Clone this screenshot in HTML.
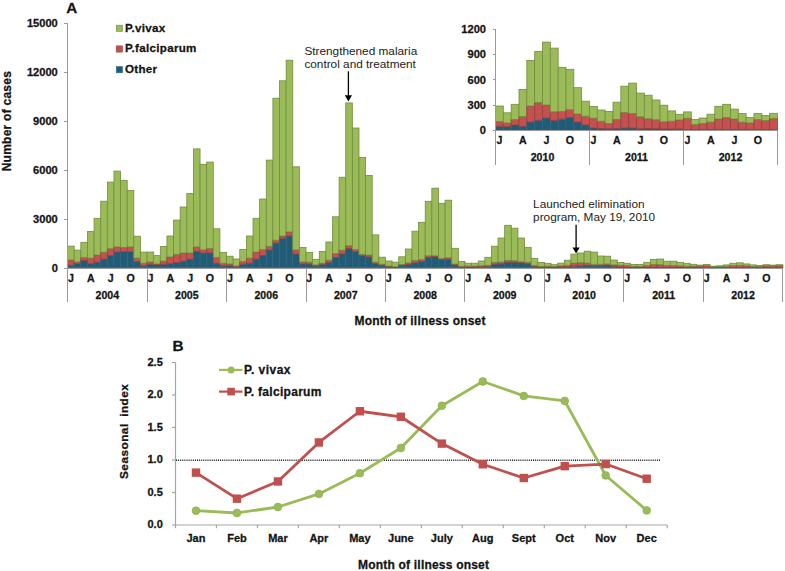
<!DOCTYPE html>
<html><head><meta charset="utf-8"><title>Malaria cases</title>
<style>html,body{margin:0;padding:0;background:#fff;} body{width:785px;height:571px;overflow:hidden;font-family:"Liberation Sans",sans-serif;} svg{display:block;}</style>
</head><body>
<svg width="785" height="571" viewBox="0 0 785 571" font-family="'Liberation Sans', sans-serif" fill="#141414">
<style>text{stroke:#141414;stroke-width:0.28px;stroke-linejoin:round} text[font-weight="normal"]{stroke:none;fill:#1c1c1c}</style>
<rect width="785" height="571" fill="#fff"/>
<rect x="67.60" y="265.20" width="6.62" height="2.60" fill="#215B75" stroke="#2E6686" stroke-width="0.8"/>
<rect x="67.60" y="259.90" width="6.62" height="5.30" fill="#C4504F" stroke="#94403C" stroke-width="0.8"/>
<rect x="67.60" y="246.10" width="6.62" height="13.80" fill="#9BBB59" stroke="#728D3E" stroke-width="0.8"/>
<rect x="74.22" y="263.70" width="6.62" height="4.10" fill="#215B75" stroke="#2E6686" stroke-width="0.8"/>
<rect x="74.22" y="261.90" width="6.62" height="1.80" fill="#C4504F" stroke="#94403C" stroke-width="0.8"/>
<rect x="74.22" y="250.10" width="6.62" height="11.80" fill="#9BBB59" stroke="#728D3E" stroke-width="0.8"/>
<rect x="80.84" y="260.40" width="6.62" height="7.40" fill="#215B75" stroke="#2E6686" stroke-width="0.8"/>
<rect x="80.84" y="257.60" width="6.62" height="2.80" fill="#C4504F" stroke="#94403C" stroke-width="0.8"/>
<rect x="80.84" y="242.30" width="6.62" height="15.30" fill="#9BBB59" stroke="#728D3E" stroke-width="0.8"/>
<rect x="87.47" y="263.70" width="6.62" height="4.10" fill="#215B75" stroke="#2E6686" stroke-width="0.8"/>
<rect x="87.47" y="258.10" width="6.62" height="5.60" fill="#C4504F" stroke="#94403C" stroke-width="0.8"/>
<rect x="87.47" y="231.60" width="6.62" height="26.50" fill="#9BBB59" stroke="#728D3E" stroke-width="0.8"/>
<rect x="94.09" y="262.10" width="6.62" height="5.70" fill="#215B75" stroke="#2E6686" stroke-width="0.8"/>
<rect x="94.09" y="255.00" width="6.62" height="7.10" fill="#C4504F" stroke="#94403C" stroke-width="0.8"/>
<rect x="94.09" y="218.30" width="6.62" height="36.70" fill="#9BBB59" stroke="#728D3E" stroke-width="0.8"/>
<rect x="100.71" y="259.10" width="6.62" height="8.70" fill="#215B75" stroke="#2E6686" stroke-width="0.8"/>
<rect x="100.71" y="252.20" width="6.62" height="6.90" fill="#C4504F" stroke="#94403C" stroke-width="0.8"/>
<rect x="100.71" y="201.20" width="6.62" height="51.00" fill="#9BBB59" stroke="#728D3E" stroke-width="0.8"/>
<rect x="107.33" y="255.50" width="6.62" height="12.30" fill="#215B75" stroke="#2E6686" stroke-width="0.8"/>
<rect x="107.33" y="248.70" width="6.62" height="6.80" fill="#C4504F" stroke="#94403C" stroke-width="0.8"/>
<rect x="107.33" y="182.10" width="6.62" height="66.60" fill="#9BBB59" stroke="#728D3E" stroke-width="0.8"/>
<rect x="113.96" y="252.00" width="6.62" height="15.80" fill="#215B75" stroke="#2E6686" stroke-width="0.8"/>
<rect x="113.96" y="246.90" width="6.62" height="5.10" fill="#C4504F" stroke="#94403C" stroke-width="0.8"/>
<rect x="113.96" y="171.10" width="6.62" height="75.80" fill="#9BBB59" stroke="#728D3E" stroke-width="0.8"/>
<rect x="120.58" y="251.70" width="6.62" height="16.10" fill="#215B75" stroke="#2E6686" stroke-width="0.8"/>
<rect x="120.58" y="247.40" width="6.62" height="4.30" fill="#C4504F" stroke="#94403C" stroke-width="0.8"/>
<rect x="120.58" y="180.30" width="6.62" height="67.10" fill="#9BBB59" stroke="#728D3E" stroke-width="0.8"/>
<rect x="127.20" y="251.70" width="6.62" height="16.10" fill="#215B75" stroke="#2E6686" stroke-width="0.8"/>
<rect x="127.20" y="246.90" width="6.62" height="4.80" fill="#C4504F" stroke="#94403C" stroke-width="0.8"/>
<rect x="127.20" y="190.40" width="6.62" height="56.50" fill="#9BBB59" stroke="#728D3E" stroke-width="0.8"/>
<rect x="133.82" y="261.60" width="6.62" height="6.20" fill="#215B75" stroke="#2E6686" stroke-width="0.8"/>
<rect x="133.82" y="258.10" width="6.62" height="3.50" fill="#C4504F" stroke="#94403C" stroke-width="0.8"/>
<rect x="133.82" y="236.20" width="6.62" height="21.90" fill="#9BBB59" stroke="#728D3E" stroke-width="0.8"/>
<rect x="140.45" y="265.90" width="6.62" height="1.90" fill="#215B75" stroke="#2E6686" stroke-width="0.8"/>
<rect x="140.45" y="263.20" width="6.62" height="2.70" fill="#C4504F" stroke="#94403C" stroke-width="0.8"/>
<rect x="140.45" y="252.10" width="6.62" height="11.10" fill="#9BBB59" stroke="#728D3E" stroke-width="0.8"/>
<rect x="147.07" y="264.20" width="6.62" height="3.60" fill="#215B75" stroke="#2E6686" stroke-width="0.8"/>
<rect x="147.07" y="261.90" width="6.62" height="2.30" fill="#C4504F" stroke="#94403C" stroke-width="0.8"/>
<rect x="147.07" y="252.00" width="6.62" height="9.90" fill="#9BBB59" stroke="#728D3E" stroke-width="0.8"/>
<rect x="153.69" y="264.70" width="6.62" height="3.10" fill="#215B75" stroke="#2E6686" stroke-width="0.8"/>
<rect x="153.69" y="263.90" width="6.62" height="0.80" fill="#C4504F" stroke="#94403C" stroke-width="0.8"/>
<rect x="153.69" y="255.60" width="6.62" height="8.30" fill="#9BBB59" stroke="#728D3E" stroke-width="0.8"/>
<rect x="160.31" y="264.20" width="6.62" height="3.60" fill="#215B75" stroke="#2E6686" stroke-width="0.8"/>
<rect x="160.31" y="261.10" width="6.62" height="3.10" fill="#C4504F" stroke="#94403C" stroke-width="0.8"/>
<rect x="160.31" y="246.40" width="6.62" height="14.70" fill="#9BBB59" stroke="#728D3E" stroke-width="0.8"/>
<rect x="166.94" y="263.70" width="6.62" height="4.10" fill="#215B75" stroke="#2E6686" stroke-width="0.8"/>
<rect x="166.94" y="257.00" width="6.62" height="6.70" fill="#C4504F" stroke="#94403C" stroke-width="0.8"/>
<rect x="166.94" y="236.00" width="6.62" height="21.00" fill="#9BBB59" stroke="#728D3E" stroke-width="0.8"/>
<rect x="173.56" y="262.60" width="6.62" height="5.20" fill="#215B75" stroke="#2E6686" stroke-width="0.8"/>
<rect x="173.56" y="254.30" width="6.62" height="8.30" fill="#C4504F" stroke="#94403C" stroke-width="0.8"/>
<rect x="173.56" y="220.10" width="6.62" height="34.20" fill="#9BBB59" stroke="#728D3E" stroke-width="0.8"/>
<rect x="180.18" y="261.10" width="6.62" height="6.70" fill="#215B75" stroke="#2E6686" stroke-width="0.8"/>
<rect x="180.18" y="253.00" width="6.62" height="8.10" fill="#C4504F" stroke="#94403C" stroke-width="0.8"/>
<rect x="180.18" y="207.00" width="6.62" height="46.00" fill="#9BBB59" stroke="#728D3E" stroke-width="0.8"/>
<rect x="186.81" y="259.10" width="6.62" height="8.70" fill="#215B75" stroke="#2E6686" stroke-width="0.8"/>
<rect x="186.81" y="253.00" width="6.62" height="6.10" fill="#C4504F" stroke="#94403C" stroke-width="0.8"/>
<rect x="186.81" y="193.60" width="6.62" height="59.40" fill="#9BBB59" stroke="#728D3E" stroke-width="0.8"/>
<rect x="193.43" y="251.40" width="6.62" height="16.40" fill="#215B75" stroke="#2E6686" stroke-width="0.8"/>
<rect x="193.43" y="246.90" width="6.62" height="4.50" fill="#C4504F" stroke="#94403C" stroke-width="0.8"/>
<rect x="193.43" y="148.90" width="6.62" height="98.00" fill="#9BBB59" stroke="#728D3E" stroke-width="0.8"/>
<rect x="200.05" y="253.00" width="6.62" height="14.80" fill="#215B75" stroke="#2E6686" stroke-width="0.8"/>
<rect x="200.05" y="249.90" width="6.62" height="3.10" fill="#C4504F" stroke="#94403C" stroke-width="0.8"/>
<rect x="200.05" y="164.30" width="6.62" height="85.60" fill="#9BBB59" stroke="#728D3E" stroke-width="0.8"/>
<rect x="206.67" y="252.80" width="6.62" height="15.00" fill="#215B75" stroke="#2E6686" stroke-width="0.8"/>
<rect x="206.67" y="248.40" width="6.62" height="4.40" fill="#C4504F" stroke="#94403C" stroke-width="0.8"/>
<rect x="206.67" y="162.10" width="6.62" height="86.30" fill="#9BBB59" stroke="#728D3E" stroke-width="0.8"/>
<rect x="213.30" y="263.20" width="6.62" height="4.60" fill="#215B75" stroke="#2E6686" stroke-width="0.8"/>
<rect x="213.30" y="257.40" width="6.62" height="5.80" fill="#C4504F" stroke="#94403C" stroke-width="0.8"/>
<rect x="213.30" y="228.80" width="6.62" height="28.60" fill="#9BBB59" stroke="#728D3E" stroke-width="0.8"/>
<rect x="219.92" y="265.90" width="6.62" height="1.90" fill="#215B75" stroke="#2E6686" stroke-width="0.8"/>
<rect x="219.92" y="263.20" width="6.62" height="2.70" fill="#C4504F" stroke="#94403C" stroke-width="0.8"/>
<rect x="219.92" y="252.30" width="6.62" height="10.90" fill="#9BBB59" stroke="#728D3E" stroke-width="0.8"/>
<rect x="226.54" y="265.70" width="6.62" height="2.10" fill="#215B75" stroke="#2E6686" stroke-width="0.8"/>
<rect x="226.54" y="263.90" width="6.62" height="1.80" fill="#C4504F" stroke="#94403C" stroke-width="0.8"/>
<rect x="226.54" y="256.20" width="6.62" height="7.70" fill="#9BBB59" stroke="#728D3E" stroke-width="0.8"/>
<rect x="233.16" y="266.50" width="6.62" height="1.30" fill="#215B75" stroke="#2E6686" stroke-width="0.8"/>
<rect x="233.16" y="265.90" width="6.62" height="0.60" fill="#C4504F" stroke="#94403C" stroke-width="0.8"/>
<rect x="233.16" y="259.00" width="6.62" height="6.90" fill="#9BBB59" stroke="#728D3E" stroke-width="0.8"/>
<rect x="239.78" y="264.20" width="6.62" height="3.60" fill="#215B75" stroke="#2E6686" stroke-width="0.8"/>
<rect x="239.78" y="261.60" width="6.62" height="2.60" fill="#C4504F" stroke="#94403C" stroke-width="0.8"/>
<rect x="239.78" y="249.50" width="6.62" height="12.10" fill="#9BBB59" stroke="#728D3E" stroke-width="0.8"/>
<rect x="246.41" y="263.20" width="6.62" height="4.60" fill="#215B75" stroke="#2E6686" stroke-width="0.8"/>
<rect x="246.41" y="258.10" width="6.62" height="5.10" fill="#C4504F" stroke="#94403C" stroke-width="0.8"/>
<rect x="246.41" y="236.00" width="6.62" height="22.10" fill="#9BBB59" stroke="#728D3E" stroke-width="0.8"/>
<rect x="253.03" y="259.10" width="6.62" height="8.70" fill="#215B75" stroke="#2E6686" stroke-width="0.8"/>
<rect x="253.03" y="252.00" width="6.62" height="7.10" fill="#C4504F" stroke="#94403C" stroke-width="0.8"/>
<rect x="253.03" y="218.30" width="6.62" height="33.70" fill="#9BBB59" stroke="#728D3E" stroke-width="0.8"/>
<rect x="259.65" y="255.50" width="6.62" height="12.30" fill="#215B75" stroke="#2E6686" stroke-width="0.8"/>
<rect x="259.65" y="249.60" width="6.62" height="5.90" fill="#C4504F" stroke="#94403C" stroke-width="0.8"/>
<rect x="259.65" y="199.00" width="6.62" height="50.60" fill="#9BBB59" stroke="#728D3E" stroke-width="0.8"/>
<rect x="266.27" y="249.90" width="6.62" height="17.90" fill="#215B75" stroke="#2E6686" stroke-width="0.8"/>
<rect x="266.27" y="246.30" width="6.62" height="3.60" fill="#C4504F" stroke="#94403C" stroke-width="0.8"/>
<rect x="266.27" y="160.10" width="6.62" height="86.20" fill="#9BBB59" stroke="#728D3E" stroke-width="0.8"/>
<rect x="272.90" y="243.10" width="6.62" height="24.70" fill="#215B75" stroke="#2E6686" stroke-width="0.8"/>
<rect x="272.90" y="240.20" width="6.62" height="2.90" fill="#C4504F" stroke="#94403C" stroke-width="0.8"/>
<rect x="272.90" y="98.20" width="6.62" height="142.00" fill="#9BBB59" stroke="#728D3E" stroke-width="0.8"/>
<rect x="279.52" y="238.20" width="6.62" height="29.60" fill="#215B75" stroke="#2E6686" stroke-width="0.8"/>
<rect x="279.52" y="236.00" width="6.62" height="2.20" fill="#C4504F" stroke="#94403C" stroke-width="0.8"/>
<rect x="279.52" y="80.80" width="6.62" height="155.20" fill="#9BBB59" stroke="#728D3E" stroke-width="0.8"/>
<rect x="286.14" y="236.00" width="6.62" height="31.80" fill="#215B75" stroke="#2E6686" stroke-width="0.8"/>
<rect x="286.14" y="231.90" width="6.62" height="4.10" fill="#C4504F" stroke="#94403C" stroke-width="0.8"/>
<rect x="286.14" y="60.20" width="6.62" height="171.70" fill="#9BBB59" stroke="#728D3E" stroke-width="0.8"/>
<rect x="292.76" y="254.00" width="6.62" height="13.80" fill="#215B75" stroke="#2E6686" stroke-width="0.8"/>
<rect x="292.76" y="249.90" width="6.62" height="4.10" fill="#C4504F" stroke="#94403C" stroke-width="0.8"/>
<rect x="292.76" y="166.80" width="6.62" height="83.10" fill="#9BBB59" stroke="#728D3E" stroke-width="0.8"/>
<rect x="299.39" y="263.90" width="6.62" height="3.90" fill="#215B75" stroke="#2E6686" stroke-width="0.8"/>
<rect x="299.39" y="261.90" width="6.62" height="2.00" fill="#C4504F" stroke="#94403C" stroke-width="0.8"/>
<rect x="299.39" y="247.40" width="6.62" height="14.50" fill="#9BBB59" stroke="#728D3E" stroke-width="0.8"/>
<rect x="306.01" y="263.90" width="6.62" height="3.90" fill="#215B75" stroke="#2E6686" stroke-width="0.8"/>
<rect x="306.01" y="262.10" width="6.62" height="1.80" fill="#C4504F" stroke="#94403C" stroke-width="0.8"/>
<rect x="306.01" y="252.30" width="6.62" height="9.80" fill="#9BBB59" stroke="#728D3E" stroke-width="0.8"/>
<rect x="312.63" y="265.90" width="6.62" height="1.90" fill="#215B75" stroke="#2E6686" stroke-width="0.8"/>
<rect x="312.63" y="264.90" width="6.62" height="1.00" fill="#C4504F" stroke="#94403C" stroke-width="0.8"/>
<rect x="312.63" y="259.30" width="6.62" height="5.60" fill="#9BBB59" stroke="#728D3E" stroke-width="0.8"/>
<rect x="319.25" y="264.20" width="6.62" height="3.60" fill="#215B75" stroke="#2E6686" stroke-width="0.8"/>
<rect x="319.25" y="263.20" width="6.62" height="1.00" fill="#C4504F" stroke="#94403C" stroke-width="0.8"/>
<rect x="319.25" y="251.40" width="6.62" height="11.80" fill="#9BBB59" stroke="#728D3E" stroke-width="0.8"/>
<rect x="325.88" y="262.60" width="6.62" height="5.20" fill="#215B75" stroke="#2E6686" stroke-width="0.8"/>
<rect x="325.88" y="260.10" width="6.62" height="2.50" fill="#C4504F" stroke="#94403C" stroke-width="0.8"/>
<rect x="325.88" y="242.00" width="6.62" height="18.10" fill="#9BBB59" stroke="#728D3E" stroke-width="0.8"/>
<rect x="332.50" y="257.60" width="6.62" height="10.20" fill="#215B75" stroke="#2E6686" stroke-width="0.8"/>
<rect x="332.50" y="253.50" width="6.62" height="4.10" fill="#C4504F" stroke="#94403C" stroke-width="0.8"/>
<rect x="332.50" y="216.80" width="6.62" height="36.70" fill="#9BBB59" stroke="#728D3E" stroke-width="0.8"/>
<rect x="339.12" y="254.00" width="6.62" height="13.80" fill="#215B75" stroke="#2E6686" stroke-width="0.8"/>
<rect x="339.12" y="250.20" width="6.62" height="3.80" fill="#C4504F" stroke="#94403C" stroke-width="0.8"/>
<rect x="339.12" y="177.20" width="6.62" height="73.00" fill="#9BBB59" stroke="#728D3E" stroke-width="0.8"/>
<rect x="345.75" y="248.40" width="6.62" height="19.40" fill="#215B75" stroke="#2E6686" stroke-width="0.8"/>
<rect x="345.75" y="245.80" width="6.62" height="2.60" fill="#C4504F" stroke="#94403C" stroke-width="0.8"/>
<rect x="345.75" y="102.90" width="6.62" height="142.90" fill="#9BBB59" stroke="#728D3E" stroke-width="0.8"/>
<rect x="352.37" y="251.40" width="6.62" height="16.40" fill="#215B75" stroke="#2E6686" stroke-width="0.8"/>
<rect x="352.37" y="249.40" width="6.62" height="2.00" fill="#C4504F" stroke="#94403C" stroke-width="0.8"/>
<rect x="352.37" y="128.00" width="6.62" height="121.40" fill="#9BBB59" stroke="#728D3E" stroke-width="0.8"/>
<rect x="358.99" y="255.70" width="6.62" height="12.10" fill="#215B75" stroke="#2E6686" stroke-width="0.8"/>
<rect x="358.99" y="254.30" width="6.62" height="1.40" fill="#C4504F" stroke="#94403C" stroke-width="0.8"/>
<rect x="358.99" y="157.50" width="6.62" height="96.80" fill="#9BBB59" stroke="#728D3E" stroke-width="0.8"/>
<rect x="365.61" y="257.00" width="6.62" height="10.80" fill="#215B75" stroke="#2E6686" stroke-width="0.8"/>
<rect x="365.61" y="255.00" width="6.62" height="2.00" fill="#C4504F" stroke="#94403C" stroke-width="0.8"/>
<rect x="365.61" y="175.40" width="6.62" height="79.60" fill="#9BBB59" stroke="#728D3E" stroke-width="0.8"/>
<rect x="372.24" y="263.70" width="6.62" height="4.10" fill="#215B75" stroke="#2E6686" stroke-width="0.8"/>
<rect x="372.24" y="262.10" width="6.62" height="1.60" fill="#C4504F" stroke="#94403C" stroke-width="0.8"/>
<rect x="372.24" y="234.90" width="6.62" height="27.20" fill="#9BBB59" stroke="#728D3E" stroke-width="0.8"/>
<rect x="378.86" y="265.20" width="6.62" height="2.60" fill="#215B75" stroke="#2E6686" stroke-width="0.8"/>
<rect x="378.86" y="264.20" width="6.62" height="1.00" fill="#C4504F" stroke="#94403C" stroke-width="0.8"/>
<rect x="378.86" y="257.20" width="6.62" height="7.00" fill="#9BBB59" stroke="#728D3E" stroke-width="0.8"/>
<rect x="385.48" y="266.70" width="6.62" height="1.10" fill="#215B75" stroke="#2E6686" stroke-width="0.8"/>
<rect x="385.48" y="266.00" width="6.62" height="0.70" fill="#C4504F" stroke="#94403C" stroke-width="0.8"/>
<rect x="385.48" y="261.00" width="6.62" height="5.00" fill="#9BBB59" stroke="#728D3E" stroke-width="0.8"/>
<rect x="392.10" y="267.00" width="6.62" height="0.80" fill="#215B75" stroke="#2E6686" stroke-width="0.8"/>
<rect x="392.10" y="266.70" width="6.62" height="0.30" fill="#C4504F" stroke="#94403C" stroke-width="0.8"/>
<rect x="392.10" y="262.20" width="6.62" height="4.50" fill="#9BBB59" stroke="#728D3E" stroke-width="0.8"/>
<rect x="398.73" y="265.30" width="6.62" height="2.50" fill="#215B75" stroke="#2E6686" stroke-width="0.8"/>
<rect x="398.73" y="264.50" width="6.62" height="0.80" fill="#C4504F" stroke="#94403C" stroke-width="0.8"/>
<rect x="398.73" y="256.80" width="6.62" height="7.70" fill="#9BBB59" stroke="#728D3E" stroke-width="0.8"/>
<rect x="405.35" y="264.50" width="6.62" height="3.30" fill="#215B75" stroke="#2E6686" stroke-width="0.8"/>
<rect x="405.35" y="262.90" width="6.62" height="1.60" fill="#C4504F" stroke="#94403C" stroke-width="0.8"/>
<rect x="405.35" y="249.00" width="6.62" height="13.90" fill="#9BBB59" stroke="#728D3E" stroke-width="0.8"/>
<rect x="411.97" y="262.90" width="6.62" height="4.90" fill="#215B75" stroke="#2E6686" stroke-width="0.8"/>
<rect x="411.97" y="260.40" width="6.62" height="2.50" fill="#C4504F" stroke="#94403C" stroke-width="0.8"/>
<rect x="411.97" y="231.20" width="6.62" height="29.20" fill="#9BBB59" stroke="#728D3E" stroke-width="0.8"/>
<rect x="418.59" y="261.60" width="6.62" height="6.20" fill="#215B75" stroke="#2E6686" stroke-width="0.8"/>
<rect x="418.59" y="259.60" width="6.62" height="2.00" fill="#C4504F" stroke="#94403C" stroke-width="0.8"/>
<rect x="418.59" y="222.30" width="6.62" height="37.30" fill="#9BBB59" stroke="#728D3E" stroke-width="0.8"/>
<rect x="425.22" y="257.50" width="6.62" height="10.30" fill="#215B75" stroke="#2E6686" stroke-width="0.8"/>
<rect x="425.22" y="255.80" width="6.62" height="1.70" fill="#C4504F" stroke="#94403C" stroke-width="0.8"/>
<rect x="425.22" y="201.30" width="6.62" height="54.50" fill="#9BBB59" stroke="#728D3E" stroke-width="0.8"/>
<rect x="431.84" y="256.80" width="6.62" height="11.00" fill="#215B75" stroke="#2E6686" stroke-width="0.8"/>
<rect x="431.84" y="255.80" width="6.62" height="1.00" fill="#C4504F" stroke="#94403C" stroke-width="0.8"/>
<rect x="431.84" y="188.20" width="6.62" height="67.60" fill="#9BBB59" stroke="#728D3E" stroke-width="0.8"/>
<rect x="438.46" y="259.40" width="6.62" height="8.40" fill="#215B75" stroke="#2E6686" stroke-width="0.8"/>
<rect x="438.46" y="258.30" width="6.62" height="1.10" fill="#C4504F" stroke="#94403C" stroke-width="0.8"/>
<rect x="438.46" y="203.30" width="6.62" height="55.00" fill="#9BBB59" stroke="#728D3E" stroke-width="0.8"/>
<rect x="445.08" y="259.20" width="6.62" height="8.60" fill="#215B75" stroke="#2E6686" stroke-width="0.8"/>
<rect x="445.08" y="257.80" width="6.62" height="1.40" fill="#C4504F" stroke="#94403C" stroke-width="0.8"/>
<rect x="445.08" y="200.20" width="6.62" height="57.60" fill="#9BBB59" stroke="#728D3E" stroke-width="0.8"/>
<rect x="451.71" y="265.00" width="6.62" height="2.80" fill="#215B75" stroke="#2E6686" stroke-width="0.8"/>
<rect x="451.71" y="264.00" width="6.62" height="1.00" fill="#C4504F" stroke="#94403C" stroke-width="0.8"/>
<rect x="451.71" y="248.30" width="6.62" height="15.70" fill="#9BBB59" stroke="#728D3E" stroke-width="0.8"/>
<rect x="458.33" y="267.00" width="6.62" height="0.80" fill="#215B75" stroke="#2E6686" stroke-width="0.8"/>
<rect x="458.33" y="266.30" width="6.62" height="0.70" fill="#C4504F" stroke="#94403C" stroke-width="0.8"/>
<rect x="458.33" y="261.40" width="6.62" height="4.90" fill="#9BBB59" stroke="#728D3E" stroke-width="0.8"/>
<rect x="464.95" y="266.90" width="6.62" height="0.90" fill="#215B75" stroke="#2E6686" stroke-width="0.8"/>
<rect x="464.95" y="266.10" width="6.62" height="0.80" fill="#C4504F" stroke="#94403C" stroke-width="0.8"/>
<rect x="464.95" y="263.20" width="6.62" height="2.90" fill="#9BBB59" stroke="#728D3E" stroke-width="0.8"/>
<rect x="471.57" y="266.90" width="6.62" height="0.90" fill="#215B75" stroke="#2E6686" stroke-width="0.8"/>
<rect x="471.57" y="266.10" width="6.62" height="0.80" fill="#C4504F" stroke="#94403C" stroke-width="0.8"/>
<rect x="471.57" y="263.20" width="6.62" height="2.90" fill="#9BBB59" stroke="#728D3E" stroke-width="0.8"/>
<rect x="478.20" y="266.60" width="6.62" height="1.20" fill="#215B75" stroke="#2E6686" stroke-width="0.8"/>
<rect x="478.20" y="265.80" width="6.62" height="0.80" fill="#C4504F" stroke="#94403C" stroke-width="0.8"/>
<rect x="478.20" y="261.00" width="6.62" height="4.80" fill="#9BBB59" stroke="#728D3E" stroke-width="0.8"/>
<rect x="484.82" y="266.30" width="6.62" height="1.50" fill="#215B75" stroke="#2E6686" stroke-width="0.8"/>
<rect x="484.82" y="265.30" width="6.62" height="1.00" fill="#C4504F" stroke="#94403C" stroke-width="0.8"/>
<rect x="484.82" y="257.30" width="6.62" height="8.00" fill="#9BBB59" stroke="#728D3E" stroke-width="0.8"/>
<rect x="491.44" y="264.30" width="6.62" height="3.50" fill="#215B75" stroke="#2E6686" stroke-width="0.8"/>
<rect x="491.44" y="262.30" width="6.62" height="2.00" fill="#C4504F" stroke="#94403C" stroke-width="0.8"/>
<rect x="491.44" y="246.20" width="6.62" height="16.10" fill="#9BBB59" stroke="#728D3E" stroke-width="0.8"/>
<rect x="498.06" y="263.80" width="6.62" height="4.00" fill="#215B75" stroke="#2E6686" stroke-width="0.8"/>
<rect x="498.06" y="262.10" width="6.62" height="1.70" fill="#C4504F" stroke="#94403C" stroke-width="0.8"/>
<rect x="498.06" y="238.00" width="6.62" height="24.10" fill="#9BBB59" stroke="#728D3E" stroke-width="0.8"/>
<rect x="504.69" y="262.30" width="6.62" height="5.50" fill="#215B75" stroke="#2E6686" stroke-width="0.8"/>
<rect x="504.69" y="260.40" width="6.62" height="1.90" fill="#C4504F" stroke="#94403C" stroke-width="0.8"/>
<rect x="504.69" y="225.30" width="6.62" height="35.10" fill="#9BBB59" stroke="#728D3E" stroke-width="0.8"/>
<rect x="511.31" y="262.30" width="6.62" height="5.50" fill="#215B75" stroke="#2E6686" stroke-width="0.8"/>
<rect x="511.31" y="260.70" width="6.62" height="1.60" fill="#C4504F" stroke="#94403C" stroke-width="0.8"/>
<rect x="511.31" y="228.20" width="6.62" height="32.50" fill="#9BBB59" stroke="#728D3E" stroke-width="0.8"/>
<rect x="517.93" y="262.80" width="6.62" height="5.00" fill="#215B75" stroke="#2E6686" stroke-width="0.8"/>
<rect x="517.93" y="261.80" width="6.62" height="1.00" fill="#C4504F" stroke="#94403C" stroke-width="0.8"/>
<rect x="517.93" y="238.00" width="6.62" height="23.80" fill="#9BBB59" stroke="#728D3E" stroke-width="0.8"/>
<rect x="524.55" y="263.80" width="6.62" height="4.00" fill="#215B75" stroke="#2E6686" stroke-width="0.8"/>
<rect x="524.55" y="262.30" width="6.62" height="1.50" fill="#C4504F" stroke="#94403C" stroke-width="0.8"/>
<rect x="524.55" y="247.30" width="6.62" height="15.00" fill="#9BBB59" stroke="#728D3E" stroke-width="0.8"/>
<rect x="531.18" y="266.30" width="6.62" height="1.50" fill="#215B75" stroke="#2E6686" stroke-width="0.8"/>
<rect x="531.18" y="265.50" width="6.62" height="0.80" fill="#C4504F" stroke="#94403C" stroke-width="0.8"/>
<rect x="531.18" y="258.30" width="6.62" height="7.20" fill="#9BBB59" stroke="#728D3E" stroke-width="0.8"/>
<rect x="537.80" y="266.90" width="6.62" height="0.90" fill="#215B75" stroke="#2E6686" stroke-width="0.8"/>
<rect x="537.80" y="266.30" width="6.62" height="0.60" fill="#C4504F" stroke="#94403C" stroke-width="0.8"/>
<rect x="537.80" y="262.40" width="6.62" height="3.90" fill="#9BBB59" stroke="#728D3E" stroke-width="0.8"/>
<rect x="544.42" y="267.06" width="6.62" height="0.74" fill="#215B75" stroke="#2E6686" stroke-width="0.8"/>
<rect x="544.42" y="266.20" width="6.62" height="0.86" fill="#C4504F" stroke="#94403C" stroke-width="0.8"/>
<rect x="544.42" y="263.30" width="6.62" height="2.90" fill="#9BBB59" stroke="#728D3E" stroke-width="0.8"/>
<rect x="551.04" y="267.18" width="6.62" height="0.62" fill="#215B75" stroke="#2E6686" stroke-width="0.8"/>
<rect x="551.04" y="266.52" width="6.62" height="0.66" fill="#C4504F" stroke="#94403C" stroke-width="0.8"/>
<rect x="551.04" y="264.70" width="6.62" height="1.82" fill="#9BBB59" stroke="#728D3E" stroke-width="0.8"/>
<rect x="557.67" y="266.86" width="6.62" height="0.94" fill="#215B75" stroke="#2E6686" stroke-width="0.8"/>
<rect x="557.67" y="265.84" width="6.62" height="1.02" fill="#C4504F" stroke="#94403C" stroke-width="0.8"/>
<rect x="557.67" y="263.10" width="6.62" height="2.74" fill="#9BBB59" stroke="#728D3E" stroke-width="0.8"/>
<rect x="564.29" y="267.05" width="6.62" height="0.75" fill="#215B75" stroke="#2E6686" stroke-width="0.8"/>
<rect x="564.29" y="265.25" width="6.62" height="1.81" fill="#C4504F" stroke="#94403C" stroke-width="0.8"/>
<rect x="564.29" y="260.20" width="6.62" height="5.05" fill="#9BBB59" stroke="#728D3E" stroke-width="0.8"/>
<rect x="570.91" y="266.19" width="6.62" height="1.61" fill="#215B75" stroke="#2E6686" stroke-width="0.8"/>
<rect x="570.91" y="263.04" width="6.62" height="3.14" fill="#C4504F" stroke="#94403C" stroke-width="0.8"/>
<rect x="570.91" y="254.10" width="6.62" height="8.94" fill="#9BBB59" stroke="#728D3E" stroke-width="0.8"/>
<rect x="577.53" y="265.94" width="6.62" height="1.86" fill="#215B75" stroke="#2E6686" stroke-width="0.8"/>
<rect x="577.53" y="262.60" width="6.62" height="3.33" fill="#C4504F" stroke="#94403C" stroke-width="0.8"/>
<rect x="577.53" y="253.00" width="6.62" height="9.60" fill="#9BBB59" stroke="#728D3E" stroke-width="0.8"/>
<rect x="584.16" y="265.48" width="6.62" height="2.32" fill="#215B75" stroke="#2E6686" stroke-width="0.8"/>
<rect x="584.16" y="263.05" width="6.62" height="2.43" fill="#C4504F" stroke="#94403C" stroke-width="0.8"/>
<rect x="584.16" y="251.20" width="6.62" height="11.85" fill="#9BBB59" stroke="#728D3E" stroke-width="0.8"/>
<rect x="590.78" y="265.91" width="6.62" height="1.89" fill="#215B75" stroke="#2E6686" stroke-width="0.8"/>
<rect x="590.78" y="264.28" width="6.62" height="1.63" fill="#C4504F" stroke="#94403C" stroke-width="0.8"/>
<rect x="590.78" y="252.10" width="6.62" height="12.18" fill="#9BBB59" stroke="#728D3E" stroke-width="0.8"/>
<rect x="597.40" y="265.72" width="6.62" height="2.08" fill="#215B75" stroke="#2E6686" stroke-width="0.8"/>
<rect x="597.40" y="264.27" width="6.62" height="1.44" fill="#C4504F" stroke="#94403C" stroke-width="0.8"/>
<rect x="597.40" y="256.00" width="6.62" height="8.27" fill="#9BBB59" stroke="#728D3E" stroke-width="0.8"/>
<rect x="604.02" y="265.36" width="6.62" height="2.44" fill="#215B75" stroke="#2E6686" stroke-width="0.8"/>
<rect x="604.02" y="263.90" width="6.62" height="1.47" fill="#C4504F" stroke="#94403C" stroke-width="0.8"/>
<rect x="604.02" y="256.20" width="6.62" height="7.70" fill="#9BBB59" stroke="#728D3E" stroke-width="0.8"/>
<rect x="610.65" y="266.30" width="6.62" height="1.50" fill="#215B75" stroke="#2E6686" stroke-width="0.8"/>
<rect x="610.65" y="264.83" width="6.62" height="1.47" fill="#C4504F" stroke="#94403C" stroke-width="0.8"/>
<rect x="610.65" y="260.00" width="6.62" height="4.83" fill="#9BBB59" stroke="#728D3E" stroke-width="0.8"/>
<rect x="617.27" y="266.85" width="6.62" height="0.95" fill="#215B75" stroke="#2E6686" stroke-width="0.8"/>
<rect x="617.27" y="265.24" width="6.62" height="1.61" fill="#C4504F" stroke="#94403C" stroke-width="0.8"/>
<rect x="617.27" y="262.50" width="6.62" height="2.74" fill="#9BBB59" stroke="#728D3E" stroke-width="0.8"/>
<rect x="623.89" y="267.38" width="6.62" height="0.42" fill="#215B75" stroke="#2E6686" stroke-width="0.8"/>
<rect x="623.89" y="265.50" width="6.62" height="1.88" fill="#C4504F" stroke="#94403C" stroke-width="0.8"/>
<rect x="623.89" y="263.30" width="6.62" height="2.20" fill="#9BBB59" stroke="#728D3E" stroke-width="0.8"/>
<rect x="630.51" y="267.51" width="6.62" height="0.29" fill="#215B75" stroke="#2E6686" stroke-width="0.8"/>
<rect x="630.51" y="266.33" width="6.62" height="1.18" fill="#C4504F" stroke="#94403C" stroke-width="0.8"/>
<rect x="630.51" y="264.50" width="6.62" height="1.83" fill="#9BBB59" stroke="#728D3E" stroke-width="0.8"/>
<rect x="637.14" y="267.54" width="6.62" height="0.26" fill="#215B75" stroke="#2E6686" stroke-width="0.8"/>
<rect x="637.14" y="266.61" width="6.62" height="0.93" fill="#C4504F" stroke="#94403C" stroke-width="0.8"/>
<rect x="637.14" y="264.50" width="6.62" height="2.11" fill="#9BBB59" stroke="#728D3E" stroke-width="0.8"/>
<rect x="643.76" y="267.45" width="6.62" height="0.35" fill="#215B75" stroke="#2E6686" stroke-width="0.8"/>
<rect x="643.76" y="265.66" width="6.62" height="1.79" fill="#C4504F" stroke="#94403C" stroke-width="0.8"/>
<rect x="643.76" y="262.30" width="6.62" height="3.36" fill="#9BBB59" stroke="#728D3E" stroke-width="0.8"/>
<rect x="650.38" y="267.38" width="6.62" height="0.42" fill="#215B75" stroke="#2E6686" stroke-width="0.8"/>
<rect x="650.38" y="264.40" width="6.62" height="2.98" fill="#C4504F" stroke="#94403C" stroke-width="0.8"/>
<rect x="650.38" y="259.40" width="6.62" height="5.00" fill="#9BBB59" stroke="#728D3E" stroke-width="0.8"/>
<rect x="657.00" y="267.39" width="6.62" height="0.41" fill="#215B75" stroke="#2E6686" stroke-width="0.8"/>
<rect x="657.00" y="264.66" width="6.62" height="2.73" fill="#C4504F" stroke="#94403C" stroke-width="0.8"/>
<rect x="657.00" y="259.00" width="6.62" height="5.66" fill="#9BBB59" stroke="#728D3E" stroke-width="0.8"/>
<rect x="663.63" y="267.53" width="6.62" height="0.27" fill="#215B75" stroke="#2E6686" stroke-width="0.8"/>
<rect x="663.63" y="265.42" width="6.62" height="2.12" fill="#C4504F" stroke="#94403C" stroke-width="0.8"/>
<rect x="663.63" y="261.20" width="6.62" height="4.22" fill="#9BBB59" stroke="#728D3E" stroke-width="0.8"/>
<rect x="670.25" y="267.46" width="6.62" height="0.34" fill="#215B75" stroke="#2E6686" stroke-width="0.8"/>
<rect x="670.25" y="265.63" width="6.62" height="1.83" fill="#C4504F" stroke="#94403C" stroke-width="0.8"/>
<rect x="670.25" y="261.20" width="6.62" height="4.43" fill="#9BBB59" stroke="#728D3E" stroke-width="0.8"/>
<rect x="676.87" y="267.53" width="6.62" height="0.27" fill="#215B75" stroke="#2E6686" stroke-width="0.8"/>
<rect x="676.87" y="265.89" width="6.62" height="1.64" fill="#C4504F" stroke="#94403C" stroke-width="0.8"/>
<rect x="676.87" y="262.30" width="6.62" height="3.59" fill="#9BBB59" stroke="#728D3E" stroke-width="0.8"/>
<rect x="683.49" y="267.57" width="6.62" height="0.23" fill="#215B75" stroke="#2E6686" stroke-width="0.8"/>
<rect x="683.49" y="266.29" width="6.62" height="1.28" fill="#C4504F" stroke="#94403C" stroke-width="0.8"/>
<rect x="683.49" y="263.30" width="6.62" height="2.99" fill="#9BBB59" stroke="#728D3E" stroke-width="0.8"/>
<rect x="690.12" y="267.56" width="6.62" height="0.24" fill="#215B75" stroke="#2E6686" stroke-width="0.8"/>
<rect x="690.12" y="266.17" width="6.62" height="1.40" fill="#C4504F" stroke="#94403C" stroke-width="0.8"/>
<rect x="690.12" y="264.30" width="6.62" height="1.87" fill="#9BBB59" stroke="#728D3E" stroke-width="0.8"/>
<rect x="696.74" y="267.58" width="6.62" height="0.22" fill="#215B75" stroke="#2E6686" stroke-width="0.8"/>
<rect x="696.74" y="266.05" width="6.62" height="1.53" fill="#C4504F" stroke="#94403C" stroke-width="0.8"/>
<rect x="696.74" y="265.10" width="6.62" height="0.95" fill="#9BBB59" stroke="#728D3E" stroke-width="0.8"/>
<rect x="703.36" y="267.69" width="6.62" height="0.11" fill="#215B75" stroke="#2E6686" stroke-width="0.8"/>
<rect x="703.36" y="265.59" width="6.62" height="2.10" fill="#C4504F" stroke="#94403C" stroke-width="0.8"/>
<rect x="703.36" y="264.40" width="6.62" height="1.19" fill="#9BBB59" stroke="#728D3E" stroke-width="0.8"/>
<rect x="709.98" y="267.71" width="6.62" height="0.09" fill="#215B75" stroke="#2E6686" stroke-width="0.8"/>
<rect x="709.98" y="266.92" width="6.62" height="0.78" fill="#C4504F" stroke="#94403C" stroke-width="0.8"/>
<rect x="709.98" y="266.20" width="6.62" height="0.72" fill="#9BBB59" stroke="#728D3E" stroke-width="0.8"/>
<rect x="716.61" y="267.70" width="6.62" height="0.10" fill="#215B75" stroke="#2E6686" stroke-width="0.8"/>
<rect x="716.61" y="266.69" width="6.62" height="1.02" fill="#C4504F" stroke="#94403C" stroke-width="0.8"/>
<rect x="716.61" y="265.80" width="6.62" height="0.89" fill="#9BBB59" stroke="#728D3E" stroke-width="0.8"/>
<rect x="723.23" y="267.69" width="6.62" height="0.11" fill="#215B75" stroke="#2E6686" stroke-width="0.8"/>
<rect x="723.23" y="266.33" width="6.62" height="1.36" fill="#C4504F" stroke="#94403C" stroke-width="0.8"/>
<rect x="723.23" y="264.90" width="6.62" height="1.43" fill="#9BBB59" stroke="#728D3E" stroke-width="0.8"/>
<rect x="729.85" y="267.69" width="6.62" height="0.11" fill="#215B75" stroke="#2E6686" stroke-width="0.8"/>
<rect x="729.85" y="265.69" width="6.62" height="2.00" fill="#C4504F" stroke="#94403C" stroke-width="0.8"/>
<rect x="729.85" y="263.30" width="6.62" height="2.39" fill="#9BBB59" stroke="#728D3E" stroke-width="0.8"/>
<rect x="736.47" y="267.68" width="6.62" height="0.12" fill="#215B75" stroke="#2E6686" stroke-width="0.8"/>
<rect x="736.47" y="265.33" width="6.62" height="2.36" fill="#C4504F" stroke="#94403C" stroke-width="0.8"/>
<rect x="736.47" y="262.80" width="6.62" height="2.53" fill="#9BBB59" stroke="#728D3E" stroke-width="0.8"/>
<rect x="743.10" y="267.69" width="6.62" height="0.11" fill="#215B75" stroke="#2E6686" stroke-width="0.8"/>
<rect x="743.10" y="265.73" width="6.62" height="1.96" fill="#C4504F" stroke="#94403C" stroke-width="0.8"/>
<rect x="743.10" y="263.90" width="6.62" height="1.83" fill="#9BBB59" stroke="#728D3E" stroke-width="0.8"/>
<rect x="749.72" y="267.70" width="6.62" height="0.10" fill="#215B75" stroke="#2E6686" stroke-width="0.8"/>
<rect x="749.72" y="266.38" width="6.62" height="1.31" fill="#C4504F" stroke="#94403C" stroke-width="0.8"/>
<rect x="749.72" y="264.90" width="6.62" height="1.48" fill="#9BBB59" stroke="#728D3E" stroke-width="0.8"/>
<rect x="756.34" y="267.69" width="6.62" height="0.11" fill="#215B75" stroke="#2E6686" stroke-width="0.8"/>
<rect x="756.34" y="266.43" width="6.62" height="1.26" fill="#C4504F" stroke="#94403C" stroke-width="0.8"/>
<rect x="756.34" y="265.40" width="6.62" height="1.03" fill="#9BBB59" stroke="#728D3E" stroke-width="0.8"/>
<rect x="762.96" y="267.69" width="6.62" height="0.11" fill="#215B75" stroke="#2E6686" stroke-width="0.8"/>
<rect x="762.96" y="265.82" width="6.62" height="1.87" fill="#C4504F" stroke="#94403C" stroke-width="0.8"/>
<rect x="762.96" y="264.70" width="6.62" height="1.12" fill="#9BBB59" stroke="#728D3E" stroke-width="0.8"/>
<rect x="769.59" y="267.69" width="6.62" height="0.11" fill="#215B75" stroke="#2E6686" stroke-width="0.8"/>
<rect x="769.59" y="266.04" width="6.62" height="1.65" fill="#C4504F" stroke="#94403C" stroke-width="0.8"/>
<rect x="769.59" y="265.10" width="6.62" height="0.94" fill="#9BBB59" stroke="#728D3E" stroke-width="0.8"/>
<rect x="776.21" y="267.69" width="6.62" height="0.11" fill="#215B75" stroke="#2E6686" stroke-width="0.8"/>
<rect x="776.21" y="265.62" width="6.62" height="2.07" fill="#C4504F" stroke="#94403C" stroke-width="0.8"/>
<rect x="776.21" y="264.70" width="6.62" height="0.92" fill="#9BBB59" stroke="#728D3E" stroke-width="0.8"/>
<g stroke="#9a9a9a" stroke-width="1" fill="none" shape-rendering="crispEdges">
<line x1="67.5" y1="22.5" x2="67.5" y2="302"/>
<line x1="64" y1="268.5" x2="67.5" y2="268.5"/>
<line x1="64" y1="219.5" x2="67.5" y2="219.5"/>
<line x1="64" y1="170.5" x2="67.5" y2="170.5"/>
<line x1="64" y1="121.5" x2="67.5" y2="121.5"/>
<line x1="64" y1="72.5" x2="67.5" y2="72.5"/>
<line x1="64" y1="23.5" x2="67.5" y2="23.5"/>
<line x1="67.5" y1="268.5" x2="782.83" y2="268.5"/>
<line x1="147.5" y1="268.5" x2="147.5" y2="302"/>
<line x1="226.5" y1="268.5" x2="226.5" y2="302"/>
<line x1="306.5" y1="268.5" x2="306.5" y2="302"/>
<line x1="385.5" y1="268.5" x2="385.5" y2="302"/>
<line x1="464.5" y1="268.5" x2="464.5" y2="302"/>
<line x1="544.5" y1="268.5" x2="544.5" y2="302"/>
<line x1="623.5" y1="268.5" x2="623.5" y2="302"/>
<line x1="703.5" y1="268.5" x2="703.5" y2="302"/>
<line x1="782.5" y1="268.5" x2="782.5" y2="302"/>
</g>
<text x="57.8" y="271.85" font-size="11.1" font-weight="bold" text-anchor="end" >0</text>
<text x="57.8" y="222.89" font-size="11.1" font-weight="bold" text-anchor="end" >3000</text>
<text x="57.8" y="173.93" font-size="11.1" font-weight="bold" text-anchor="end" >6000</text>
<text x="57.8" y="124.97" font-size="11.1" font-weight="bold" text-anchor="end" >9000</text>
<text x="57.8" y="76.01" font-size="11.1" font-weight="bold" text-anchor="end" >12000</text>
<text x="57.8" y="27.05" font-size="11.1" font-weight="bold" text-anchor="end" >15000</text>
<text x="70.91" y="281.6" font-size="10.6" font-weight="bold" text-anchor="middle" >J</text>
<text x="90.78" y="281.6" font-size="10.6" font-weight="bold" text-anchor="middle" >A</text>
<text x="110.65" y="281.6" font-size="10.6" font-weight="bold" text-anchor="middle" >J</text>
<text x="130.51" y="281.6" font-size="10.6" font-weight="bold" text-anchor="middle" >O</text>
<text x="107.33" y="298.9" font-size="10.6" font-weight="bold" text-anchor="middle" >2004</text>
<text x="150.38" y="281.6" font-size="10.6" font-weight="bold" text-anchor="middle" >J</text>
<text x="170.25" y="281.6" font-size="10.6" font-weight="bold" text-anchor="middle" >A</text>
<text x="190.12" y="281.6" font-size="10.6" font-weight="bold" text-anchor="middle" >J</text>
<text x="209.98" y="281.6" font-size="10.6" font-weight="bold" text-anchor="middle" >O</text>
<text x="186.81" y="298.9" font-size="10.6" font-weight="bold" text-anchor="middle" >2005</text>
<text x="229.85" y="281.6" font-size="10.6" font-weight="bold" text-anchor="middle" >J</text>
<text x="249.72" y="281.6" font-size="10.6" font-weight="bold" text-anchor="middle" >A</text>
<text x="269.59" y="281.6" font-size="10.6" font-weight="bold" text-anchor="middle" >J</text>
<text x="289.45" y="281.6" font-size="10.6" font-weight="bold" text-anchor="middle" >O</text>
<text x="266.27" y="298.9" font-size="10.6" font-weight="bold" text-anchor="middle" >2006</text>
<text x="309.32" y="281.6" font-size="10.6" font-weight="bold" text-anchor="middle" >J</text>
<text x="329.19" y="281.6" font-size="10.6" font-weight="bold" text-anchor="middle" >A</text>
<text x="349.06" y="281.6" font-size="10.6" font-weight="bold" text-anchor="middle" >J</text>
<text x="368.92" y="281.6" font-size="10.6" font-weight="bold" text-anchor="middle" >O</text>
<text x="345.75" y="298.9" font-size="10.6" font-weight="bold" text-anchor="middle" >2007</text>
<text x="388.79" y="281.6" font-size="10.6" font-weight="bold" text-anchor="middle" >J</text>
<text x="408.66" y="281.6" font-size="10.6" font-weight="bold" text-anchor="middle" >A</text>
<text x="428.53" y="281.6" font-size="10.6" font-weight="bold" text-anchor="middle" >J</text>
<text x="448.39" y="281.6" font-size="10.6" font-weight="bold" text-anchor="middle" >O</text>
<text x="425.22" y="298.9" font-size="10.6" font-weight="bold" text-anchor="middle" >2008</text>
<text x="468.26" y="281.6" font-size="10.6" font-weight="bold" text-anchor="middle" >J</text>
<text x="488.13" y="281.6" font-size="10.6" font-weight="bold" text-anchor="middle" >A</text>
<text x="508.00" y="281.6" font-size="10.6" font-weight="bold" text-anchor="middle" >J</text>
<text x="527.86" y="281.6" font-size="10.6" font-weight="bold" text-anchor="middle" >O</text>
<text x="504.69" y="298.9" font-size="10.6" font-weight="bold" text-anchor="middle" >2009</text>
<text x="547.73" y="281.6" font-size="10.6" font-weight="bold" text-anchor="middle" >J</text>
<text x="567.60" y="281.6" font-size="10.6" font-weight="bold" text-anchor="middle" >A</text>
<text x="587.47" y="281.6" font-size="10.6" font-weight="bold" text-anchor="middle" >J</text>
<text x="607.33" y="281.6" font-size="10.6" font-weight="bold" text-anchor="middle" >O</text>
<text x="584.16" y="298.9" font-size="10.6" font-weight="bold" text-anchor="middle" >2010</text>
<text x="627.20" y="281.6" font-size="10.6" font-weight="bold" text-anchor="middle" >J</text>
<text x="647.07" y="281.6" font-size="10.6" font-weight="bold" text-anchor="middle" >A</text>
<text x="666.94" y="281.6" font-size="10.6" font-weight="bold" text-anchor="middle" >J</text>
<text x="686.80" y="281.6" font-size="10.6" font-weight="bold" text-anchor="middle" >O</text>
<text x="663.63" y="298.9" font-size="10.6" font-weight="bold" text-anchor="middle" >2011</text>
<text x="706.67" y="281.6" font-size="10.6" font-weight="bold" text-anchor="middle" >J</text>
<text x="726.54" y="281.6" font-size="10.6" font-weight="bold" text-anchor="middle" >A</text>
<text x="746.41" y="281.6" font-size="10.6" font-weight="bold" text-anchor="middle" >J</text>
<text x="766.27" y="281.6" font-size="10.6" font-weight="bold" text-anchor="middle" >O</text>
<text x="743.10" y="298.9" font-size="10.6" font-weight="bold" text-anchor="middle" >2012</text>
<text x="420" y="324.8" font-size="12" font-weight="bold" text-anchor="middle" textLength="131" lengthAdjust="spacing" >Month of illness onset</text>
<text transform="translate(10.7,121.2) rotate(-90)" font-size="12" font-weight="bold" text-anchor="middle" textLength="100.2" lengthAdjust="spacing">Number of cases</text>
<text x="66.3" y="12.7" font-size="15.2" font-weight="bold" text-anchor="start" >A</text>
<rect x="116.3" y="25.2" width="6.2" height="6.2" fill="#9BBB59" stroke="#728D3E" stroke-width="0.6"/>
<text x="125.0" y="31.7" font-size="11.6" font-weight="bold" text-anchor="start" letter-spacing="0.3">P.vivax</text>
<rect x="116.3" y="45.9" width="6.2" height="6.2" fill="#C4504F" stroke="#94403C" stroke-width="0.6"/>
<text x="125.0" y="52.4" font-size="11.6" font-weight="bold" text-anchor="start" letter-spacing="0.3">P.falciparum</text>
<rect x="116.3" y="66.6" width="6.2" height="6.2" fill="#215B75" stroke="#2E6686" stroke-width="0.6"/>
<text x="125.0" y="73.1" font-size="11.6" font-weight="bold" text-anchor="start" letter-spacing="0.3">Other</text>
<text x="304.4" y="54.6" font-size="11.8" font-weight="normal" text-anchor="start" >Strengthened malaria</text>
<text x="304.4" y="67.7" font-size="11.8" font-weight="normal" text-anchor="start" >control and treatment</text>
<text x="533.1" y="207.5" font-size="11.8" font-weight="normal" text-anchor="start" >Launched elimination</text>
<text x="533.1" y="220.7" font-size="11.8" font-weight="normal" text-anchor="start" >program, May 19, 2010</text>
<line x1="348.4" y1="71.3" x2="348.4" y2="97.5" stroke="#000" stroke-width="1.3"/><path d="M344.79999999999995,95.3 L352.0,95.3 L348.4,101.5 Z" fill="#000"/>
<line x1="576.1" y1="224.7" x2="576.1" y2="249.6" stroke="#000" stroke-width="1.3"/><path d="M572.5,247.4 L579.7,247.4 L576.1,253.6 Z" fill="#000"/>
<rect x="495.50" y="126.20" width="7.83" height="4.00" fill="#215B75" stroke="#2E6686" stroke-width="0.8"/>
<rect x="495.50" y="121.60" width="7.83" height="4.60" fill="#C4504F" stroke="#94403C" stroke-width="0.8"/>
<rect x="495.50" y="106.00" width="7.83" height="15.60" fill="#9BBB59" stroke="#728D3E" stroke-width="0.8"/>
<rect x="503.33" y="126.70" width="7.83" height="3.50" fill="#215B75" stroke="#2E6686" stroke-width="0.8"/>
<rect x="503.33" y="123.00" width="7.83" height="3.70" fill="#C4504F" stroke="#94403C" stroke-width="0.8"/>
<rect x="503.33" y="112.80" width="7.83" height="10.20" fill="#9BBB59" stroke="#728D3E" stroke-width="0.8"/>
<rect x="511.17" y="125.00" width="7.83" height="5.20" fill="#215B75" stroke="#2E6686" stroke-width="0.8"/>
<rect x="511.17" y="119.40" width="7.83" height="5.60" fill="#C4504F" stroke="#94403C" stroke-width="0.8"/>
<rect x="511.17" y="104.30" width="7.83" height="15.10" fill="#9BBB59" stroke="#728D3E" stroke-width="0.8"/>
<rect x="519.00" y="126.20" width="7.83" height="4.00" fill="#215B75" stroke="#2E6686" stroke-width="0.8"/>
<rect x="519.00" y="116.50" width="7.83" height="9.70" fill="#C4504F" stroke="#94403C" stroke-width="0.8"/>
<rect x="519.00" y="89.40" width="7.83" height="27.10" fill="#9BBB59" stroke="#728D3E" stroke-width="0.8"/>
<rect x="526.83" y="122.00" width="7.83" height="8.20" fill="#215B75" stroke="#2E6686" stroke-width="0.8"/>
<rect x="526.83" y="106.00" width="7.83" height="16.00" fill="#C4504F" stroke="#94403C" stroke-width="0.8"/>
<rect x="526.83" y="60.50" width="7.83" height="45.50" fill="#9BBB59" stroke="#728D3E" stroke-width="0.8"/>
<rect x="534.67" y="120.30" width="7.83" height="9.90" fill="#215B75" stroke="#2E6686" stroke-width="0.8"/>
<rect x="534.67" y="102.60" width="7.83" height="17.70" fill="#C4504F" stroke="#94403C" stroke-width="0.8"/>
<rect x="534.67" y="51.60" width="7.83" height="51.00" fill="#9BBB59" stroke="#728D3E" stroke-width="0.8"/>
<rect x="542.50" y="117.90" width="7.83" height="12.30" fill="#215B75" stroke="#2E6686" stroke-width="0.8"/>
<rect x="542.50" y="105.00" width="7.83" height="12.90" fill="#C4504F" stroke="#94403C" stroke-width="0.8"/>
<rect x="542.50" y="42.10" width="7.83" height="62.90" fill="#9BBB59" stroke="#728D3E" stroke-width="0.8"/>
<rect x="550.33" y="120.30" width="7.83" height="9.90" fill="#215B75" stroke="#2E6686" stroke-width="0.8"/>
<rect x="550.33" y="111.80" width="7.83" height="8.50" fill="#C4504F" stroke="#94403C" stroke-width="0.8"/>
<rect x="550.33" y="48.10" width="7.83" height="63.70" fill="#9BBB59" stroke="#728D3E" stroke-width="0.8"/>
<rect x="558.17" y="119.10" width="7.83" height="11.10" fill="#215B75" stroke="#2E6686" stroke-width="0.8"/>
<rect x="558.17" y="111.40" width="7.83" height="7.70" fill="#C4504F" stroke="#94403C" stroke-width="0.8"/>
<rect x="558.17" y="67.30" width="7.83" height="44.10" fill="#9BBB59" stroke="#728D3E" stroke-width="0.8"/>
<rect x="566.00" y="117.40" width="7.83" height="12.80" fill="#215B75" stroke="#2E6686" stroke-width="0.8"/>
<rect x="566.00" y="109.70" width="7.83" height="7.70" fill="#C4504F" stroke="#94403C" stroke-width="0.8"/>
<rect x="566.00" y="69.30" width="7.83" height="40.40" fill="#9BBB59" stroke="#728D3E" stroke-width="0.8"/>
<rect x="573.83" y="122.00" width="7.83" height="8.20" fill="#215B75" stroke="#2E6686" stroke-width="0.8"/>
<rect x="573.83" y="114.00" width="7.83" height="8.00" fill="#C4504F" stroke="#94403C" stroke-width="0.8"/>
<rect x="573.83" y="87.70" width="7.83" height="26.30" fill="#9BBB59" stroke="#728D3E" stroke-width="0.8"/>
<rect x="581.67" y="125.00" width="7.83" height="5.20" fill="#215B75" stroke="#2E6686" stroke-width="0.8"/>
<rect x="581.67" y="116.20" width="7.83" height="8.80" fill="#C4504F" stroke="#94403C" stroke-width="0.8"/>
<rect x="581.67" y="101.20" width="7.83" height="15.00" fill="#9BBB59" stroke="#728D3E" stroke-width="0.8"/>
<rect x="589.50" y="128.00" width="7.83" height="2.20" fill="#215B75" stroke="#2E6686" stroke-width="0.8"/>
<rect x="589.50" y="118.10" width="7.83" height="9.90" fill="#C4504F" stroke="#94403C" stroke-width="0.8"/>
<rect x="589.50" y="106.50" width="7.83" height="11.60" fill="#9BBB59" stroke="#728D3E" stroke-width="0.8"/>
<rect x="597.33" y="128.40" width="7.83" height="1.80" fill="#215B75" stroke="#2E6686" stroke-width="0.8"/>
<rect x="597.33" y="121.20" width="7.83" height="7.20" fill="#C4504F" stroke="#94403C" stroke-width="0.8"/>
<rect x="597.33" y="110.00" width="7.83" height="11.20" fill="#9BBB59" stroke="#728D3E" stroke-width="0.8"/>
<rect x="605.17" y="128.70" width="7.83" height="1.50" fill="#215B75" stroke="#2E6686" stroke-width="0.8"/>
<rect x="605.17" y="123.40" width="7.83" height="5.30" fill="#C4504F" stroke="#94403C" stroke-width="0.8"/>
<rect x="605.17" y="111.40" width="7.83" height="12.00" fill="#9BBB59" stroke="#728D3E" stroke-width="0.8"/>
<rect x="613.00" y="128.40" width="7.83" height="1.80" fill="#215B75" stroke="#2E6686" stroke-width="0.8"/>
<rect x="613.00" y="119.30" width="7.83" height="9.10" fill="#C4504F" stroke="#94403C" stroke-width="0.8"/>
<rect x="613.00" y="102.20" width="7.83" height="17.10" fill="#9BBB59" stroke="#728D3E" stroke-width="0.8"/>
<rect x="620.83" y="128.00" width="7.83" height="2.20" fill="#215B75" stroke="#2E6686" stroke-width="0.8"/>
<rect x="620.83" y="112.40" width="7.83" height="15.60" fill="#C4504F" stroke="#94403C" stroke-width="0.8"/>
<rect x="620.83" y="86.20" width="7.83" height="26.20" fill="#9BBB59" stroke="#728D3E" stroke-width="0.8"/>
<rect x="628.67" y="128.00" width="7.83" height="2.20" fill="#215B75" stroke="#2E6686" stroke-width="0.8"/>
<rect x="628.67" y="113.40" width="7.83" height="14.60" fill="#C4504F" stroke="#94403C" stroke-width="0.8"/>
<rect x="628.67" y="83.10" width="7.83" height="30.30" fill="#9BBB59" stroke="#728D3E" stroke-width="0.8"/>
<rect x="636.50" y="128.70" width="7.83" height="1.50" fill="#215B75" stroke="#2E6686" stroke-width="0.8"/>
<rect x="636.50" y="116.80" width="7.83" height="11.90" fill="#C4504F" stroke="#94403C" stroke-width="0.8"/>
<rect x="636.50" y="93.10" width="7.83" height="23.70" fill="#9BBB59" stroke="#728D3E" stroke-width="0.8"/>
<rect x="644.33" y="128.40" width="7.83" height="1.80" fill="#215B75" stroke="#2E6686" stroke-width="0.8"/>
<rect x="644.33" y="118.70" width="7.83" height="9.70" fill="#C4504F" stroke="#94403C" stroke-width="0.8"/>
<rect x="644.33" y="95.20" width="7.83" height="23.50" fill="#9BBB59" stroke="#728D3E" stroke-width="0.8"/>
<rect x="652.17" y="128.70" width="7.83" height="1.50" fill="#215B75" stroke="#2E6686" stroke-width="0.8"/>
<rect x="652.17" y="119.70" width="7.83" height="9.00" fill="#C4504F" stroke="#94403C" stroke-width="0.8"/>
<rect x="652.17" y="100.00" width="7.83" height="19.70" fill="#9BBB59" stroke="#728D3E" stroke-width="0.8"/>
<rect x="660.00" y="128.90" width="7.83" height="1.30" fill="#215B75" stroke="#2E6686" stroke-width="0.8"/>
<rect x="660.00" y="121.80" width="7.83" height="7.10" fill="#C4504F" stroke="#94403C" stroke-width="0.8"/>
<rect x="660.00" y="105.20" width="7.83" height="16.60" fill="#9BBB59" stroke="#728D3E" stroke-width="0.8"/>
<rect x="667.83" y="128.90" width="7.83" height="1.30" fill="#215B75" stroke="#2E6686" stroke-width="0.8"/>
<rect x="667.83" y="121.20" width="7.83" height="7.70" fill="#C4504F" stroke="#94403C" stroke-width="0.8"/>
<rect x="667.83" y="110.90" width="7.83" height="10.30" fill="#9BBB59" stroke="#728D3E" stroke-width="0.8"/>
<rect x="675.67" y="128.90" width="7.83" height="1.30" fill="#215B75" stroke="#2E6686" stroke-width="0.8"/>
<rect x="675.67" y="119.90" width="7.83" height="9.00" fill="#C4504F" stroke="#94403C" stroke-width="0.8"/>
<rect x="675.67" y="114.30" width="7.83" height="5.60" fill="#9BBB59" stroke="#728D3E" stroke-width="0.8"/>
<rect x="683.50" y="129.60" width="7.83" height="0.60" fill="#215B75" stroke="#2E6686" stroke-width="0.8"/>
<rect x="683.50" y="118.30" width="7.83" height="11.30" fill="#C4504F" stroke="#94403C" stroke-width="0.8"/>
<rect x="683.50" y="111.90" width="7.83" height="6.40" fill="#9BBB59" stroke="#728D3E" stroke-width="0.8"/>
<rect x="691.33" y="129.60" width="7.83" height="0.60" fill="#215B75" stroke="#2E6686" stroke-width="0.8"/>
<rect x="691.33" y="124.40" width="7.83" height="5.20" fill="#C4504F" stroke="#94403C" stroke-width="0.8"/>
<rect x="691.33" y="119.60" width="7.83" height="4.80" fill="#9BBB59" stroke="#728D3E" stroke-width="0.8"/>
<rect x="699.17" y="129.60" width="7.83" height="0.60" fill="#215B75" stroke="#2E6686" stroke-width="0.8"/>
<rect x="699.17" y="123.40" width="7.83" height="6.20" fill="#C4504F" stroke="#94403C" stroke-width="0.8"/>
<rect x="699.17" y="118.00" width="7.83" height="5.40" fill="#9BBB59" stroke="#728D3E" stroke-width="0.8"/>
<rect x="707.00" y="129.60" width="7.83" height="0.60" fill="#215B75" stroke="#2E6686" stroke-width="0.8"/>
<rect x="707.00" y="122.10" width="7.83" height="7.50" fill="#C4504F" stroke="#94403C" stroke-width="0.8"/>
<rect x="707.00" y="114.20" width="7.83" height="7.90" fill="#9BBB59" stroke="#728D3E" stroke-width="0.8"/>
<rect x="714.83" y="129.60" width="7.83" height="0.60" fill="#215B75" stroke="#2E6686" stroke-width="0.8"/>
<rect x="714.83" y="119.00" width="7.83" height="10.60" fill="#C4504F" stroke="#94403C" stroke-width="0.8"/>
<rect x="714.83" y="106.30" width="7.83" height="12.70" fill="#9BBB59" stroke="#728D3E" stroke-width="0.8"/>
<rect x="722.67" y="129.60" width="7.83" height="0.60" fill="#215B75" stroke="#2E6686" stroke-width="0.8"/>
<rect x="722.67" y="117.40" width="7.83" height="12.20" fill="#C4504F" stroke="#94403C" stroke-width="0.8"/>
<rect x="722.67" y="104.30" width="7.83" height="13.10" fill="#9BBB59" stroke="#728D3E" stroke-width="0.8"/>
<rect x="730.50" y="129.60" width="7.83" height="0.60" fill="#215B75" stroke="#2E6686" stroke-width="0.8"/>
<rect x="730.50" y="119.00" width="7.83" height="10.60" fill="#C4504F" stroke="#94403C" stroke-width="0.8"/>
<rect x="730.50" y="109.10" width="7.83" height="9.90" fill="#9BBB59" stroke="#728D3E" stroke-width="0.8"/>
<rect x="738.33" y="129.60" width="7.83" height="0.60" fill="#215B75" stroke="#2E6686" stroke-width="0.8"/>
<rect x="738.33" y="122.10" width="7.83" height="7.50" fill="#C4504F" stroke="#94403C" stroke-width="0.8"/>
<rect x="738.33" y="113.60" width="7.83" height="8.50" fill="#9BBB59" stroke="#728D3E" stroke-width="0.8"/>
<rect x="746.17" y="129.60" width="7.83" height="0.60" fill="#215B75" stroke="#2E6686" stroke-width="0.8"/>
<rect x="746.17" y="122.90" width="7.83" height="6.70" fill="#C4504F" stroke="#94403C" stroke-width="0.8"/>
<rect x="746.17" y="117.40" width="7.83" height="5.50" fill="#9BBB59" stroke="#728D3E" stroke-width="0.8"/>
<rect x="754.00" y="129.60" width="7.83" height="0.60" fill="#215B75" stroke="#2E6686" stroke-width="0.8"/>
<rect x="754.00" y="119.60" width="7.83" height="10.00" fill="#C4504F" stroke="#94403C" stroke-width="0.8"/>
<rect x="754.00" y="113.60" width="7.83" height="6.00" fill="#9BBB59" stroke="#728D3E" stroke-width="0.8"/>
<rect x="761.83" y="129.60" width="7.83" height="0.60" fill="#215B75" stroke="#2E6686" stroke-width="0.8"/>
<rect x="761.83" y="120.60" width="7.83" height="9.00" fill="#C4504F" stroke="#94403C" stroke-width="0.8"/>
<rect x="761.83" y="115.50" width="7.83" height="5.10" fill="#9BBB59" stroke="#728D3E" stroke-width="0.8"/>
<rect x="769.67" y="129.60" width="7.83" height="0.60" fill="#215B75" stroke="#2E6686" stroke-width="0.8"/>
<rect x="769.67" y="118.30" width="7.83" height="11.30" fill="#C4504F" stroke="#94403C" stroke-width="0.8"/>
<rect x="769.67" y="113.30" width="7.83" height="5.00" fill="#9BBB59" stroke="#728D3E" stroke-width="0.8"/>
<g stroke="#9a9a9a" stroke-width="1" fill="none" shape-rendering="crispEdges">
<line x1="495.5" y1="29.5" x2="495.5" y2="164.5"/>
<line x1="492.5" y1="130.5" x2="495.5" y2="130.5"/>
<line x1="492.5" y1="105.5" x2="495.5" y2="105.5"/>
<line x1="492.5" y1="79.5" x2="495.5" y2="79.5"/>
<line x1="492.5" y1="54.5" x2="495.5" y2="54.5"/>
<line x1="492.5" y1="29.5" x2="495.5" y2="29.5"/>
<line x1="495.5" y1="130.5" x2="777.5" y2="130.5"/>
<line x1="589.5" y1="130.5" x2="589.5" y2="164.5"/>
<line x1="683.5" y1="130.5" x2="683.5" y2="164.5"/>
<line x1="777.5" y1="130.5" x2="777.5" y2="164.5"/>
</g>
<text x="486" y="133.80" font-size="11.1" font-weight="bold" text-anchor="end" >0</text>
<text x="486" y="108.65" font-size="11.1" font-weight="bold" text-anchor="end" >300</text>
<text x="486" y="83.50" font-size="11.1" font-weight="bold" text-anchor="end" >600</text>
<text x="486" y="58.35" font-size="11.1" font-weight="bold" text-anchor="end" >900</text>
<text x="486" y="33.20" font-size="11.1" font-weight="bold" text-anchor="end" >1200</text>
<text x="499.42" y="144.1" font-size="10.6" font-weight="bold" text-anchor="middle" >J</text>
<text x="522.92" y="144.1" font-size="10.6" font-weight="bold" text-anchor="middle" >A</text>
<text x="546.42" y="144.1" font-size="10.6" font-weight="bold" text-anchor="middle" >J</text>
<text x="569.92" y="144.1" font-size="10.6" font-weight="bold" text-anchor="middle" >O</text>
<text x="542.50" y="161.2" font-size="10.6" font-weight="bold" text-anchor="middle" >2010</text>
<text x="593.42" y="144.1" font-size="10.6" font-weight="bold" text-anchor="middle" >J</text>
<text x="616.92" y="144.1" font-size="10.6" font-weight="bold" text-anchor="middle" >A</text>
<text x="640.42" y="144.1" font-size="10.6" font-weight="bold" text-anchor="middle" >J</text>
<text x="663.92" y="144.1" font-size="10.6" font-weight="bold" text-anchor="middle" >O</text>
<text x="636.50" y="161.2" font-size="10.6" font-weight="bold" text-anchor="middle" >2011</text>
<text x="687.42" y="144.1" font-size="10.6" font-weight="bold" text-anchor="middle" >J</text>
<text x="710.92" y="144.1" font-size="10.6" font-weight="bold" text-anchor="middle" >A</text>
<text x="734.42" y="144.1" font-size="10.6" font-weight="bold" text-anchor="middle" >J</text>
<text x="757.92" y="144.1" font-size="10.6" font-weight="bold" text-anchor="middle" >O</text>
<text x="730.50" y="161.2" font-size="10.6" font-weight="bold" text-anchor="middle" >2012</text>
<g stroke="#a6a6a6" stroke-width="1.2" fill="none">
<line x1="175.5" y1="362.50" x2="175.5" y2="528.2"/>
<line x1="172" y1="525.00" x2="175.5" y2="525.00"/>
<line x1="172" y1="492.50" x2="175.5" y2="492.50"/>
<line x1="172" y1="460.00" x2="175.5" y2="460.00"/>
<line x1="172" y1="427.50" x2="175.5" y2="427.50"/>
<line x1="172" y1="395.00" x2="175.5" y2="395.00"/>
<line x1="172" y1="362.50" x2="175.5" y2="362.50"/>
<line x1="175.5" y1="525.0" x2="667.2" y2="525.0"/>
<line x1="216.47" y1="525.0" x2="216.47" y2="528.2"/>
<line x1="257.45" y1="525.0" x2="257.45" y2="528.2"/>
<line x1="298.43" y1="525.0" x2="298.43" y2="528.2"/>
<line x1="339.40" y1="525.0" x2="339.40" y2="528.2"/>
<line x1="380.38" y1="525.0" x2="380.38" y2="528.2"/>
<line x1="421.35" y1="525.0" x2="421.35" y2="528.2"/>
<line x1="462.32" y1="525.0" x2="462.32" y2="528.2"/>
<line x1="503.30" y1="525.0" x2="503.30" y2="528.2"/>
<line x1="544.28" y1="525.0" x2="544.28" y2="528.2"/>
<line x1="585.25" y1="525.0" x2="585.25" y2="528.2"/>
<line x1="626.23" y1="525.0" x2="626.23" y2="528.2"/>
<line x1="667.20" y1="525.0" x2="667.20" y2="528.2"/>
</g>
<text x="162.8" y="528.40" font-size="11" font-weight="bold" text-anchor="end" >0.0</text>
<text x="162.8" y="495.90" font-size="11" font-weight="bold" text-anchor="end" >0.5</text>
<text x="162.8" y="463.40" font-size="11" font-weight="bold" text-anchor="end" >1.0</text>
<text x="162.8" y="430.90" font-size="11" font-weight="bold" text-anchor="end" >1.5</text>
<text x="162.8" y="398.40" font-size="11" font-weight="bold" text-anchor="end" >2.0</text>
<text x="162.8" y="365.90" font-size="11" font-weight="bold" text-anchor="end" >2.5</text>
<text x="195.99" y="542.0" font-size="11" font-weight="bold" text-anchor="middle" >Jan</text>
<text x="236.96" y="542.0" font-size="11" font-weight="bold" text-anchor="middle" >Feb</text>
<text x="277.94" y="542.0" font-size="11" font-weight="bold" text-anchor="middle" >Mar</text>
<text x="318.91" y="542.0" font-size="11" font-weight="bold" text-anchor="middle" >Apr</text>
<text x="359.89" y="542.0" font-size="11" font-weight="bold" text-anchor="middle" >May</text>
<text x="400.86" y="542.0" font-size="11" font-weight="bold" text-anchor="middle" >June</text>
<text x="441.84" y="542.0" font-size="11" font-weight="bold" text-anchor="middle" >July</text>
<text x="482.81" y="542.0" font-size="11" font-weight="bold" text-anchor="middle" >Aug</text>
<text x="523.79" y="542.0" font-size="11" font-weight="bold" text-anchor="middle" >Sept</text>
<text x="564.76" y="542.0" font-size="11" font-weight="bold" text-anchor="middle" >Oct</text>
<text x="605.74" y="542.0" font-size="11" font-weight="bold" text-anchor="middle" >Nov</text>
<text x="646.71" y="542.0" font-size="11" font-weight="bold" text-anchor="middle" >Dec</text>
<text x="423.5" y="568.9" font-size="12" font-weight="bold" text-anchor="middle" textLength="131" lengthAdjust="spacing" >Month of illness onset</text>
<text transform="translate(128.0,479.0) rotate(-90)" font-size="11.8" font-weight="bold" text-anchor="start" textLength="55.2" lengthAdjust="spacing">Seasonal</text>
<text transform="translate(128.0,384.2) rotate(-90)" font-size="11.8" font-weight="bold" text-anchor="end" textLength="32.6" lengthAdjust="spacing">index</text>
<text x="172.4" y="351.2" font-size="15.3" font-weight="bold" text-anchor="start" >B</text>
<line x1="176" y1="460.2" x2="661" y2="460.2" stroke="#1a1a1a" stroke-width="1.4" stroke-dasharray="1 1.1"/>
<polyline points="195.99,510.70 236.96,512.98 277.94,507.00 318.91,493.93 359.89,473.19 400.86,447.98 441.84,405.73 482.81,381.48 523.79,395.91 564.76,400.98 605.74,475.47 646.71,510.38" fill="none" stroke="#9BBB59" stroke-width="2.8" stroke-linejoin="round"/>
<polyline points="195.99,472.61 236.96,498.68 277.94,481.45 318.91,442.45 359.89,411.25 400.86,416.77 441.84,443.62 482.81,464.29 523.79,478.00 564.76,466.18 605.74,464.03 646.71,478.72" fill="none" stroke="#C0504D" stroke-width="2.8" stroke-linejoin="round"/>
<rect x="191.79" y="468.41" width="8.4" height="8.4" fill="#C0504D"/>
<rect x="232.76" y="494.48" width="8.4" height="8.4" fill="#C0504D"/>
<rect x="273.74" y="477.25" width="8.4" height="8.4" fill="#C0504D"/>
<rect x="314.71" y="438.25" width="8.4" height="8.4" fill="#C0504D"/>
<rect x="355.69" y="407.05" width="8.4" height="8.4" fill="#C0504D"/>
<rect x="396.66" y="412.57" width="8.4" height="8.4" fill="#C0504D"/>
<rect x="437.64" y="439.42" width="8.4" height="8.4" fill="#C0504D"/>
<rect x="478.61" y="460.09" width="8.4" height="8.4" fill="#C0504D"/>
<rect x="519.59" y="473.81" width="8.4" height="8.4" fill="#C0504D"/>
<rect x="560.56" y="461.98" width="8.4" height="8.4" fill="#C0504D"/>
<rect x="601.54" y="459.83" width="8.4" height="8.4" fill="#C0504D"/>
<rect x="642.51" y="474.52" width="8.4" height="8.4" fill="#C0504D"/>
<circle cx="195.99" cy="510.70" r="3.9" fill="#9BBB59" stroke="#8AAE4C" stroke-width="0.6"/>
<circle cx="236.96" cy="512.98" r="3.9" fill="#9BBB59" stroke="#8AAE4C" stroke-width="0.6"/>
<circle cx="277.94" cy="507.00" r="3.9" fill="#9BBB59" stroke="#8AAE4C" stroke-width="0.6"/>
<circle cx="318.91" cy="493.93" r="3.9" fill="#9BBB59" stroke="#8AAE4C" stroke-width="0.6"/>
<circle cx="359.89" cy="473.19" r="3.9" fill="#9BBB59" stroke="#8AAE4C" stroke-width="0.6"/>
<circle cx="400.86" cy="447.98" r="3.9" fill="#9BBB59" stroke="#8AAE4C" stroke-width="0.6"/>
<circle cx="441.84" cy="405.73" r="3.9" fill="#9BBB59" stroke="#8AAE4C" stroke-width="0.6"/>
<circle cx="482.81" cy="381.48" r="3.9" fill="#9BBB59" stroke="#8AAE4C" stroke-width="0.6"/>
<circle cx="523.79" cy="395.91" r="3.9" fill="#9BBB59" stroke="#8AAE4C" stroke-width="0.6"/>
<circle cx="564.76" cy="400.98" r="3.9" fill="#9BBB59" stroke="#8AAE4C" stroke-width="0.6"/>
<circle cx="605.74" cy="475.47" r="3.9" fill="#9BBB59" stroke="#8AAE4C" stroke-width="0.6"/>
<circle cx="646.71" cy="510.38" r="3.9" fill="#9BBB59" stroke="#8AAE4C" stroke-width="0.6"/>
<line x1="219" y1="369.9" x2="242.5" y2="369.9" stroke="#9BBB59" stroke-width="2.2"/>
<circle cx="231.1" cy="369.9" r="3.5" fill="#9BBB59"/>
<text x="244.0" y="374.2" font-size="12" font-weight="bold" text-anchor="start" textLength="46.5" lengthAdjust="spacing" >P. vivax</text>
<line x1="219" y1="391.6" x2="242.5" y2="391.6" stroke="#C0504D" stroke-width="2.2"/>
<rect x="227.3" y="387.8" width="7.6" height="7.6" fill="#C0504D"/>
<text x="244.0" y="395.7" font-size="12" font-weight="bold" text-anchor="start" textLength="77.4" lengthAdjust="spacing" >P. falciparum</text>
</svg>
</body></html>
